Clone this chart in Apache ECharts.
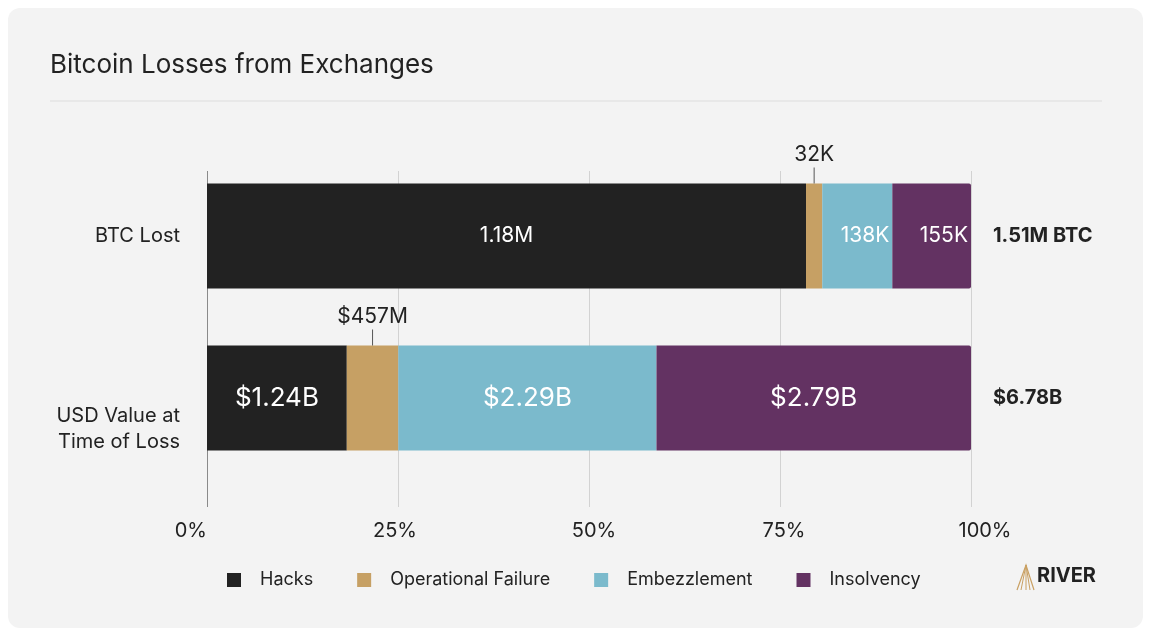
<!DOCTYPE html>
<html>
<head>
<meta charset="utf-8">
<title>Bitcoin Losses from Exchanges</title>
<script src="https://cdn.jsdelivr.net/npm/echarts@6/dist/echarts.min.js"></script>
<style>
	html, body { margin: 0; padding: 0; background: #fff; }
	#chart { width: 1152px; height: 636px; }
</style>
</head>
<body>
<div id="chart"></div>
<script>
const categories = ["BTC Lost", "USD Value at\nTime of Loss"];
const causes = ["Hacks", "Operational Failure", "Embezzlement", "Insolvency"];
const colors = ["#222222", "#c6a064", "#7bbacc", "#633262"];
// per cause: BTC lost (thousand BTC) and USD value (million USD)
const btcLost = [1180, 32, 138, 155];
const usdLost = [1240, 457, 2290, 2790];
const btcLabels = ["1.18M", "32K", "138K", "155K"];
const usdLabels = ["$1.24B", "$457M", "$2.29B", "$2.79B"];
const totals = ["1.51M BTC", "$6.78B"];
const tickValues = [0, 25, 50, 75, 100];

(() => {
	const font = "Inter";
	const chart = echarts.init(document.getElementById("chart"));

	const btcSum = btcLost.reduce((a, b) => a + b, 0);
	const usdSum = usdLost.reduce((a, b) => a + b, 0);

	// label for the thin segment sits above the bar with a small leader line
	const leader = (txt) => ({
		show: true,
		position: "top",
		distance: 0,
		formatter: "{t|" + txt + "}\n{l|}",
		rich: {
			t: { fontFamily: font, fontSize: 21, color: "#222", lineHeight: 26, align: "center" },
			l: { width: 1, height: 16, backgroundColor: "#555", align: "center" }
		}
	});

	const series = causes.map((name, i) => {
		let btcLabel, usdLabel;
		if (i === 1) {
			btcLabel = leader(btcLabels[i]);
			usdLabel = leader(usdLabels[i]);
		} else {
			btcLabel = {
				show: true,
				position: i === 0 ? "inside" : "insideRight",
				distance: 3,
				formatter: btcLabels[i],
				fontFamily: font, fontSize: 21, color: "#fff"
			};
			usdLabel = {
				show: true,
				position: "inside",
				formatter: usdLabels[i],
				fontFamily: font, fontSize: 26, color: "#fff"
			};
		}
		return {
			name: name,
			type: "bar",
			stack: "total",
			xAxisIndex: 1,
			yAxisIndex: 1,
			barWidth: 105,
			itemStyle: { color: colors[i], borderRadius: i === 3 ? [0, 2, 2, 0] : 0 },
			emphasis: { disabled: true },
			data: [
				{ value: btcLost[i] / btcSum * 100, label: btcLabel },
				{ value: usdLost[i] / usdSum * 100, label: usdLabel }
			]
		};
	});

	// small nudges so tick labels sit like the original
	const tickRich = {
		t0: { fontFamily: font, fontSize: 20, color: "#222" },
		t1: { fontFamily: font, fontSize: 20, color: "#222", padding: [0, 6, 0, 0] },
		t2: { fontFamily: font, fontSize: 20, color: "#222", padding: [0, 0, 0, 10] },
		t3: { fontFamily: font, fontSize: 20, color: "#222", padding: [0, 0, 0, 8] },
		t4: { fontFamily: font, fontSize: 20, color: "#222", padding: [0, 0, 0, 28] }
	};

	const option = {
		animation: false,
		backgroundColor: "#ffffff",
		textStyle: { fontFamily: font },
		graphic: [
			{ type: "rect", z: -10, shape: { x: 8, y: 8, width: 1135, height: 620, r: 12 }, style: { fill: "#f3f3f3" } },
			{ type: "text", left: 50, top: 52, style: { text: "Bitcoin Losses from Exchanges", fontFamily: font, fontSize: 26, fill: "#222" } },
			{ type: "line", shape: { x1: 50, y1: 101, x2: 1102, y2: 101 }, style: { stroke: "#dddddd", lineWidth: 1 } },
			{ type: "polyline", shape: { points: [[1017, 590], [1026, 565], [1034, 590]] }, style: { stroke: "#c9a063", fill: null, lineWidth: 1.2 } },
			{ type: "polyline", shape: { points: [[1021, 590], [1026, 565], [1030, 590]] }, style: { stroke: "#c9a063", fill: null, lineWidth: 1 } },
			{ type: "line", shape: { x1: 1026, y1: 565, x2: 1026, y2: 590 }, style: { stroke: "#c9a063", lineWidth: 1 } },
			{ type: "text", left: 1037, top: 566, style: { text: "RIVER", fontFamily: font, fontSize: 20, fontWeight: "bold", fill: "#222" } }
		],
		legend: {
			left: 222,
			top: 566,
			itemWidth: 14,
			itemHeight: 14,
			itemGap: 44,
			icon: "rect",
			selectedMode: false,
			textStyle: { fontFamily: font, fontSize: 18, color: "#222", padding: [0, 0, 0, 14] },
			data: causes
		},
		grid: [
			{ left: 207, width: 764, top: 171, height: 336 },
			{ left: 207, width: 764, top: 155, height: 324 }
		],
		xAxis: [
			{
				gridIndex: 0, type: "value", min: 0, max: 100, interval: 25,
				axisLine: { show: false }, axisTick: { show: false },
				splitLine: { show: true, lineStyle: { color: ["#8a8a8a", "#d2d2d2", "#d2d2d2", "#d2d2d2", "#d2d2d2"], width: 1 } },
				axisLabel: {
					margin: 14, fontFamily: font, fontSize: 20, color: "#222",
					formatter: v => {
						const k = tickValues.indexOf(v);
						return k < 0 ? "" : "{t" + k + "|" + v + "%}";
					},
					rich: tickRich,
					alignMinLabel: "right"
				}
			},
			{ gridIndex: 1, type: "value", min: 0, max: 100, show: false }
		],
		yAxis: [
			{ gridIndex: 0, type: "category", data: [""], show: false },
			{
				gridIndex: 1, type: "category", inverse: true,
				data: [
					{ value: categories[0] },
					{ value: categories[1], textStyle: { verticalAlign: "top", lineHeight: 26, padding: [5, 0, 0, 0] } }
				],
				axisLine: { show: false }, axisTick: { show: false },
				axisLabel: { margin: 27, fontFamily: font, fontSize: 20, color: "#222", lineHeight: 26 }
			},
			{
				gridIndex: 1, type: "category", inverse: true, position: "right",
				data: totals,
				axisLine: { show: false }, axisTick: { show: false },
				axisLabel: { margin: 22, fontFamily: font, fontSize: 20, fontWeight: "bold", color: "#222" }
			}
		],
		series: series
	};

	chart.setOption(option);
})();
</script>
</body>
</html>
